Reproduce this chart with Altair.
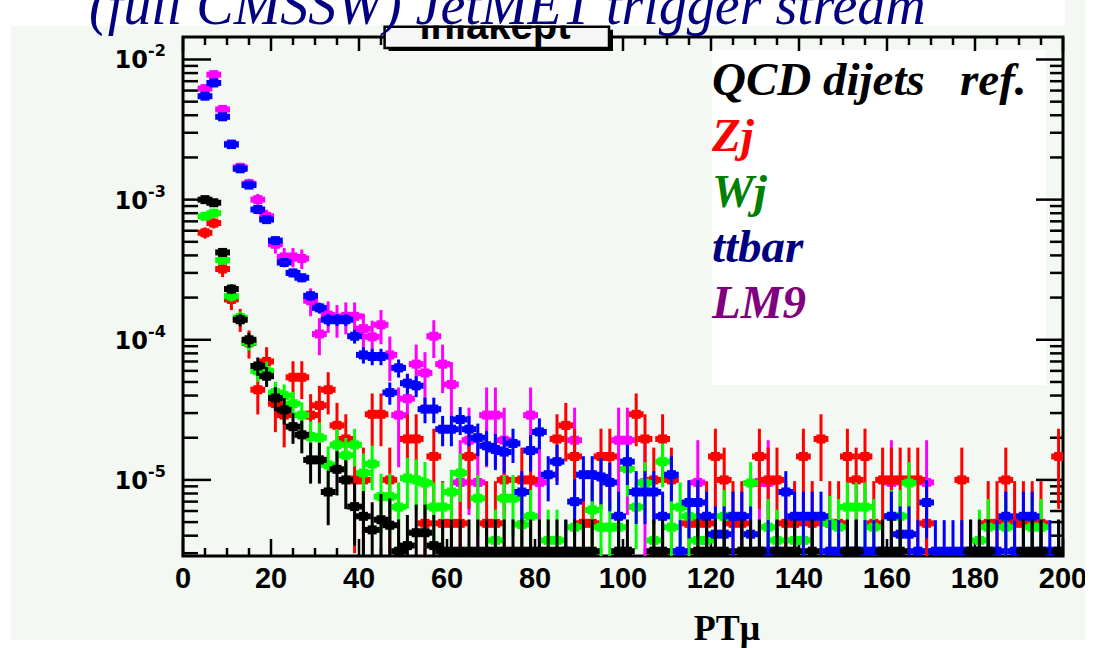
import altair as alt
import numpy as np
import pandas as pd

W, H = 880, 519
Y_MIN, Y_MAX = 2.865e-6, 1.447e-2

# (bin centre, content)
qcd = [(5, 1.0e-3), (7, 9.5e-4), (9, 4.2e-4), (11, 2.3e-4), (13, 1.39e-4), (15, 1.0e-4),
       (17, 6.5e-5), (19, 5.5e-5), (21, 3.84e-5), (23, 3.16e-5), (25, 2.4e-5), (27, 2.1e-5),
       (29, 1.39e-5), (31, 1.39e-5), (33, 8.2e-6), (35, 1.19e-5), (37, 1.0e-5), (39, 6.45e-6),
       (41, 5.5e-6), (43, 4.4e-6), (45, 5.2e-6), (47, 4.75e-6), (49, 3.1e-6), (51, 3.4e-6),
       (53, 4.2e-6), (55, 4.2e-6), (57, 3.4e-6)] + \
      [(b, 3.1e-6) for b in [59, 61, 63, 65, 67, 69, 71, 73, 75, 77, 79, 81, 83, 85, 87, 89, 91, 93,
                             99, 101, 107, 109, 117, 119, 121, 123, 127, 129, 131, 135, 137, 139,
                             143, 151, 153, 159, 161, 163, 179, 181, 183, 191, 193, 195, 199]]

zj = [(5, 5.8e-4), (7, 6.8e-4), (9, 3.2e-4), (11, 1.94e-4), (13, 1.4e-4), (15, 9.5e-5), (17, 4.4e-5),
      (19, 7.0e-5), (21, 3.5e-5), (23, 2.9e-5), (25, 5.4e-5), (27, 5.4e-5), (29, 2.9e-5), (31, 3.4e-5),
      (33, 4.4e-5), (35, 2.45e-5), (37, 1.96e-5), (39, 1.0e-5), (41, 1.0e-5), (43, 2.94e-5),
      (45, 2.94e-5), (47, 1.0e-5), (51, 1.96e-5), (53, 1.96e-5), (55, 4.9e-6), (57, 1.47e-5),
      (59, 4.9e-6), (61, 4.9e-6), (63, 4.9e-6), (65, 1.47e-5), (69, 4.9e-6), (71, 4.9e-6),
      (73, 1.0e-5), (77, 1.0e-5), (79, 1.0e-5), (85, 1.96e-5), (87, 2.45e-5), (89, 1.47e-5),
      (91, 4.9e-6), (93, 4.9e-6), (95, 1.47e-5), (97, 1.47e-5), (103, 2.94e-5), (105, 1.96e-5),
      (107, 1.0e-5), (109, 1.96e-5), (111, 1.0e-5), (115, 4.9e-6), (117, 4.9e-6), (119, 4.9e-6),
      (121, 1.47e-5), (123, 1.0e-5), (125, 4.9e-6), (127, 4.9e-6), (131, 1.47e-5), (133, 1.0e-5),
      (135, 1.0e-5), (137, 4.9e-6), (139, 4.9e-6), (141, 1.47e-5), (143, 4.9e-6), (145, 1.96e-5),
      (147, 4.9e-6), (149, 4.9e-6), (151, 1.47e-5), (153, 1.0e-5), (155, 1.47e-5), (157, 4.9e-6),
      (159, 1.0e-5), (161, 1.0e-5), (163, 1.0e-5), (165, 1.0e-5), (167, 1.0e-5), (169, 4.9e-6),
      (177, 1.0e-5), (183, 4.9e-6), (185, 4.9e-6), (187, 1.0e-5), (189, 4.9e-6), (191, 4.9e-6),
      (193, 4.9e-6), (195, 4.9e-6), (199, 1.47e-5)]

wj = [(5, 7.6e-4), (7, 8.0e-4), (9, 3.7e-4), (11, 2.05e-4), (13, 1.44e-4), (15, 9.6e-5), (17, 6.0e-5),
      (19, 6.0e-5), (21, 4.2e-5), (23, 4.0e-5), (25, 3.5e-5), (27, 2.9e-5), (29, 2.04e-5), (31, 2.0e-5),
      (33, 1.28e-5), (35, 1.78e-5), (37, 1.5e-5), (39, 1.78e-5), (41, 1.12e-5), (43, 1.3e-5),
      (45, 7.6e-6), (47, 7.6e-6), (49, 6.4e-6), (51, 1.03e-5), (53, 1.0e-5), (55, 9.5e-6),
      (57, 6.4e-6), (59, 6.4e-6), (61, 8.2e-6), (63, 1.12e-5), (67, 7.4e-6), (71, 3.7e-6),
      (73, 7.4e-6), (75, 7.4e-6), (77, 4.8e-6), (79, 5.5e-6), (83, 3.7e-6), (85, 3.7e-6),
      (89, 4.6e-6), (93, 6.1e-6), (95, 4.6e-6), (97, 4.6e-6), (99, 4.6e-6), (101, 1.2e-5),
      (103, 6.4e-6), (105, 9.5e-6), (107, 3.7e-6), (109, 1.35e-5), (111, 4.6e-6), (113, 6.4e-6),
      (115, 5.5e-6), (117, 3.7e-6), (119, 3.7e-6), (123, 5.5e-6), (129, 9.5e-6), (133, 4.6e-6),
      (135, 3.7e-6), (139, 3.7e-6), (141, 3.7e-6), (147, 4.9e-6), (149, 4.6e-6), (151, 6.4e-6),
      (153, 6.4e-6), (155, 6.4e-6), (157, 4.6e-6), (161, 5.5e-6), (163, 5.5e-6), (165, 9.5e-6),
      (181, 3.7e-6), (183, 4.6e-6), (187, 4.6e-6), (193, 4.6e-6), (195, 4.6e-6)]

ttbar_bins = list(range(5, 200, 2))
ttbar_vals = [5.47e-3, 6.8e-3, 3.9e-3, 2.47e-3, 1.66e-3, 1.27e-3, 8.5e-4, 7.2e-4, 5.1e-4, 3.56e-4,
              3.0e-4, 2.77e-4, 2.06e-4, 1.69e-4, 1.39e-4, 1.39e-4, 1.39e-4, 1.06e-4, 7.8e-5, 7.6e-5,
              7.6e-5, 4.2e-5, 6.3e-5, 4.9e-5, 4.7e-5, 3.2e-5, 3.2e-5, 2.3e-5, 2.3e-5, 2.7e-5,
              2.3e-5, 2.0e-5, 1.75e-5, 1.65e-5, 1.58e-5, 1.82e-5, 8.2e-6, 1.62e-5, 2.2e-5, 1.09e-5,
              1.35e-5, 3.1e-6, 7.0e-6, 1.09e-5, 1.09e-5, 1.05e-5, 9.6e-6, 5.5e-6, 1.35e-5, 8.2e-6,
              8.2e-6, 8.2e-6, 5.5e-6, 1.09e-5, 3.1e-6, 6.9e-6, 6.9e-6, 5.5e-6, 4.1e-6, 4.1e-6,
              5.5e-6, 5.5e-6, 4.1e-6, 3.1e-6, 3.1e-6, 3.1e-6, 8.2e-6, 5.5e-6, 5.5e-6, 5.5e-6,
              5.5e-6, 3.1e-6, 3.1e-6, 3.1e-6, 3.1e-6, 3.1e-6, 3.1e-6, 3.1e-6, 5.5e-6, 4.1e-6,
              4.1e-6, 3.1e-6, 6.9e-6, 3.1e-6, 3.1e-6, 3.1e-6, 3.1e-6, 3.1e-6, 3.1e-6, 3.1e-6,
              3.1e-6, 5.5e-6, 3.1e-6, 5.5e-6, 5.5e-6, 3.1e-6, 3.1e-6, 3.1e-6]
ttbar = list(zip(ttbar_bins, ttbar_vals))

lm9 = [(5, 6.2e-3), (7, 7.8e-3), (9, 4.4e-3), (11, 2.5e-3), (13, 1.7e-3), (15, 1.3e-3), (17, 1.0e-3),
       (19, 7.6e-4), (21, 4.8e-4), (23, 3.9e-4), (25, 3.9e-4), (27, 3.8e-4), (29, 1.9e-4), (31, 1.1e-4),
       (33, 1.5e-4), (35, 1.4e-4), (37, 1.47e-4), (39, 1.47e-4), (41, 1.2e-4), (43, 1.05e-4),
       (45, 1.28e-4), (47, 7.8e-5), (49, 2.9e-5), (51, 3.8e-5), (53, 6.7e-5), (55, 5.8e-5),
       (57, 1.06e-4), (59, 6.7e-5), (61, 4.8e-5), (63, 9.6e-6), (65, 1.92e-5), (67, 9.6e-6),
       (69, 2.9e-5), (71, 2.9e-5), (73, 1.92e-5), (79, 2.9e-5), (81, 9.6e-6), (89, 1.92e-5),
       (99, 1.92e-5), (101, 1.92e-5), (105, 9.6e-6), (117, 9.6e-6), (131, 9.6e-6), (133, 9.6e-6),
       (161, 9.6e-6), (169, 9.6e-6)]

# name, data, per-event weight (sets the error bar), colour  -- drawing order
series = [("LM9", lm9, 9.6e-6, "#ff00ff"),
          ("Zj", zj, 4.9e-6, "#ff0000"),
          ("Wj", wj, 1.6e-6, "#00ff00"),
          ("ttbar", ttbar, 1.37e-6, "#0000ff"),
          ("QCD", qcd, 1.45e-6, "#000000")]

legend_labels = ["QCD\u00a0dijets\u00a0\u00a0\u00a0ref.", "Zj", "Wj", "ttbar", "LM9"]
legend_colors = ["#000000", "#ff0000", "#008000", "#000080", "#800080"]

x_major = list(range(0, 201, 20))
x_minor = [v for v in range(0, 201, 5) if v % 20]
y_major = [1e-5, 1e-4, 1e-3, 1e-2]
y_major_exp = ["-5", "-4", "-3", "-2"]
y_minor = [k * 10.0 ** e for e in range(-6, -1) for k in range(2, 10)
           if Y_MIN <= k * 10.0 ** e <= Y_MAX]

xsc = alt.Scale(domain=[0, 200], nice=False, zero=False)
ysc = alt.Scale(type="log", domain=[Y_MIN, Y_MAX], nice=False)


def X(f):
    return alt.X(f, type="quantitative", scale=xsc, axis=None)


def Y(f):
    return alt.Y(f, type="quantitative", scale=ysc, axis=None)


one = pd.DataFrame({"k": [0]})


def box(x1, x2, y1, y2, **kw):
    return alt.Chart(one).mark_rect(**kw).encode(
        x=alt.value(x1), x2=alt.value(x2), y=alt.value(y1), y2=alt.value(y2))


layers = []
# page pieces (chart origin is at page pixel 183,37)
layers.append(box(-183, -172.3, -37, 611, color="white"))
layers.append(box(-183, 917, 603, 611, color="white"))
layers.append(box(529, 863, 13, 348, color="white"))


def trule(df, enc, sw=2.5):
    return alt.Chart(df).mark_rule(color="black", strokeWidth=sw).encode(**enc)


dxM = pd.DataFrame({"x": x_major})
dxm = pd.DataFrame({"x": x_minor})
dyM = pd.DataFrame({"v": y_major, "e": y_major_exp})
dym = pd.DataFrame({"v": y_minor})
layers += [
    trule(dxM, dict(x=X("x"), y=alt.value(H), y2=alt.value(H - 17))),
    trule(dxm, dict(x=X("x"), y=alt.value(H), y2=alt.value(H - 8))),
    trule(dxM, dict(x=X("x"), y=alt.value(0), y2=alt.value(14))),
    trule(dxm, dict(x=X("x"), y=alt.value(0), y2=alt.value(8))),
    trule(dyM, dict(y=Y("v"), x=alt.value(0), x2=alt.value(28))),
    trule(dym, dict(y=Y("v"), x=alt.value(0), x2=alt.value(15))),
    trule(dyM, dict(y=Y("v"), x=alt.value(W), x2=alt.value(W - 27))),
    trule(dym, dict(y=Y("v"), x=alt.value(W), x2=alt.value(W - 13))),
]

# frame
layers.append(alt.Chart(one).mark_rect(fillOpacity=0, stroke="black", strokeWidth=3).encode(
    x=alt.value(0), x2=alt.value(W), y=alt.value(0), y2=alt.value(H)))

# data: vertical error bar, bin-wide horizontal bar, square marker
for name, pts, w, col in series:
    xs = np.array([p[0] for p in pts], float)
    vs = np.array([p[1] for p in pts], float)
    err = np.sqrt(vs * w)
    df = pd.DataFrame({"x": xs, "xl": xs - 1, "xr": xs + 1, "v": vs,
                       "lo": np.maximum(vs - err, Y_MIN * 0.5), "hi": vs + err})
    base = alt.Chart(df)
    layers.append(base.mark_rule(color=col, strokeWidth=3, clip=True).encode(
        x=X("x"), y=Y("lo"), y2=alt.Y2("hi")))
    layers.append(base.mark_rule(color=col, strokeWidth=6, strokeCap="square", clip=True).encode(
        x=X("xl"), x2=alt.X2("xr"), y=Y("v")))
    layers.append(base.mark_square(color=col, size=81, opacity=1, clip=True).encode(
        x=X("x"), y=Y("v")))

# axis labels
layers.append(alt.Chart(pd.DataFrame({"x": x_major, "lab": [str(v) for v in x_major]}))
              .mark_text(font="Liberation Sans", fontWeight="bold", fontSize=29, align="center",
                         baseline="alphabetic", color="black")
              .encode(x=X("x"), y=alt.value(H + 32), text="lab:N"))
layers.append(alt.Chart(dyM).mark_text(font="DejaVu Sans", fontWeight="bold", fontSize=24,
                                       align="right", baseline="middle", dy=2, color="black")
              .encode(y=Y("v"), x=alt.value(-35), text=alt.value("10")))
layers.append(alt.Chart(dyM).mark_text(font="DejaVu Sans", fontWeight="bold", fontSize=16,
                                       align="left", baseline="middle", dy=-8, color="black")
              .encode(y=Y("v"), x=alt.value(-35), text="e:N"))
layers.append(alt.Chart(one).mark_text(font="Liberation Serif", fontWeight="bold", fontSize=36,
                                       align="center", baseline="alphabetic", color="black")
              .encode(x=alt.value(544), y=alt.value(603), text=alt.value("PTμ")))

# legend text
for i, (lab, col) in enumerate(zip(legend_labels, legend_colors)):
    layers.append(alt.Chart(one).mark_text(font="Liberation Serif", fontWeight="bold",
                                           fontStyle="italic", fontSize=47, align="left",
                                           baseline="alphabetic", color=col)
                  .encode(x=alt.value(529), y=alt.value(58 + i * 55.8), text=alt.value(lab)))

# histogram title box
layers.append(box(205.6, 430, -7.3, 14, color="black"))
layers.append(box(201.6, 426, -10.3, 11, color="#f6f6f6"))
layers.append(alt.Chart(one).mark_text(font="Liberation Sans", fontWeight="bold", fontSize=40,
                                       align="center", baseline="alphabetic", color="black")
              .encode(x=alt.value(312), y=alt.value(2), text=alt.value("inlakept")))
layers.append(box(-172.3, 882, -37, -11.5, color="white"))
layers.append(alt.Chart(one).mark_rect(fillOpacity=0, stroke="black", strokeWidth=2.5).encode(
    x=alt.value(201.6), x2=alt.value(426), y=alt.value(-10.3), y2=alt.value(11)))

# slide title (upper part cut off by the page edge)
layers.append(alt.Chart(one).mark_text(font="Liberation Serif", fontStyle="italic", fontSize=56,
                                       align="left", baseline="alphabetic", color="#000080")
              .encode(x=alt.value(-94), y=alt.value(-13),
                      text=alt.value("(full CMSSW) JetMET trigger stream")))

# right page margin
layers.append(box(902, 917, -37, 611, color="white"))

chart = alt.layer(*layers).properties(
    width=W, height=H,
    padding={"left": 183, "top": 37, "right": 37, "bottom": 92},
    autosize=alt.AutoSizeParams(type="none"),
).configure(background="#f3f8f3").configure_view(strokeWidth=0)

chart.save("out.html", embed_options={"renderer": "svg", "actions": False})
